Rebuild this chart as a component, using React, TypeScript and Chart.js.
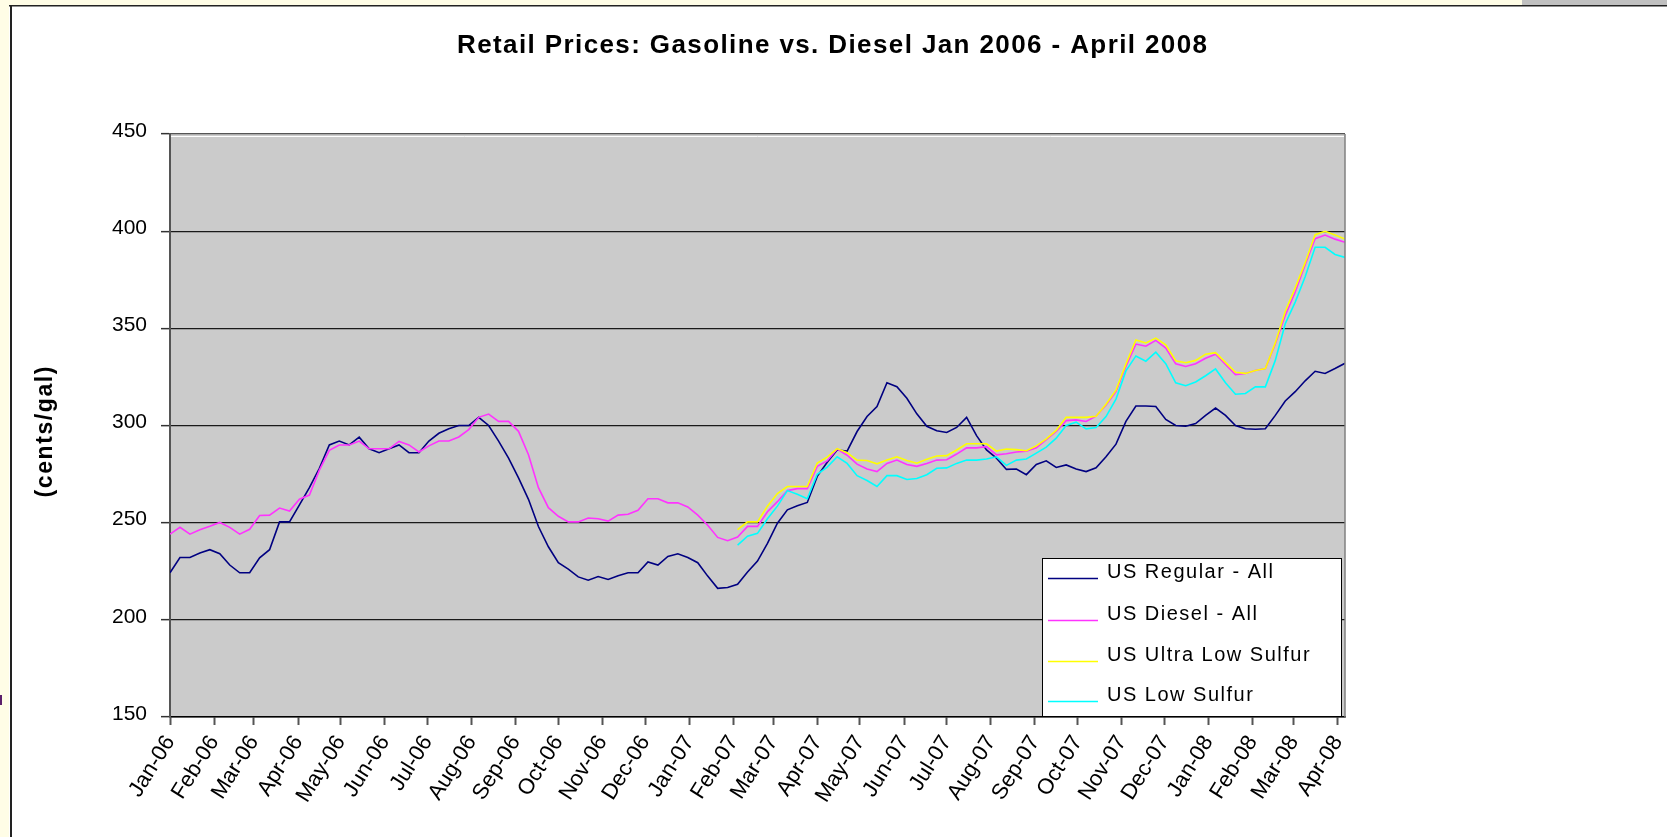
import React, { useEffect, useRef } from "react";
import { Chart, registerables } from "chart.js";

Chart.register(...registerables);

// ---------- data ----------
const FIRST_WEEK_UTC = Date.UTC(2006, 0, 2); // first weekly observation (Mon Jan 2, 2006)
const WEEK_COUNT = 119; // weekly observations through Apr 7, 2008
const LOW_SULFUR_START_WEEK = 57; // ULSD / LSD series start (Feb 5, 2007)

const monthTickLabels = [
  "Jan-06", "Feb-06", "Mar-06", "Apr-06", "May-06", "Jun-06", "Jul-06", "Aug-06", "Sep-06", "Oct-06", "Nov-06", "Dec-06",
  "Jan-07", "Feb-07", "Mar-07", "Apr-07", "May-07", "Jun-07", "Jul-07", "Aug-07", "Sep-07", "Oct-07", "Nov-07", "Dec-07",
  "Jan-08", "Feb-08", "Mar-08", "Apr-08",
];

const seriesNames = ["US Regular - All", "US Diesel - All", "US Ultra Low Sulfur", "US Low Sulfur"];
const seriesColors = ["#000080", "#ff33ff", "#ffff00", "#00ffff"];

const usRegularAll = [
  224.2, 232.1, 232.1, 234.4, 236.1, 234.0, 228.2, 224.2, 224.2, 231.9,
  236.1, 250.4, 250.4, 259.2, 268.0, 278.0, 290.0, 292.0, 290.0, 294.0,
  288.0, 286.0, 288.0, 290.0, 286.0, 286.0, 292.0, 296.0, 298.3, 300.0,
  300.0, 304.2, 300.0, 292.0, 283.2, 273.0, 262.0, 248.0, 237.6, 229.4,
  226.1, 222.1, 220.4, 222.3, 220.8, 222.7, 224.2, 224.2, 229.8, 228.2,
  232.6, 234.0, 232.1, 229.4, 222.5, 216.2, 216.6, 218.3, 224.6, 230.2,
  239.3, 249.7, 256.6, 258.7, 260.4, 273.8, 281.1, 287.4, 286.8, 296.9,
  304.6, 309.8, 322.0, 320.0, 314.0, 306.0, 299.6, 297.3, 296.4, 299.0,
  304.2, 294.8, 287.4, 283.2, 277.4, 277.6, 274.7, 279.9, 281.8, 278.4,
  279.7, 277.6, 276.3, 278.2, 283.9, 290.4, 302.1, 310.0, 310.0, 309.8,
  303.1, 300.0, 299.6, 301.0, 305.2, 309.0, 305.2, 300.0, 298.3, 298.1,
  298.3, 305.2, 312.6, 317.4, 323.0, 327.9, 326.8, 329.3, 332.0,
];

const usDieselAll = [
  244.1, 247.6, 244.1, 246.4, 248.1, 250.1, 247.6, 244.1, 246.6, 253.7,
  253.9, 257.5, 256.0, 262.1, 264.2, 277.0, 287.2, 290.0, 290.0, 292.0,
  288.0, 288.0, 288.0, 291.8, 290.0, 286.4, 289.5, 292.0, 292.0, 294.1,
  297.9, 304.2, 305.9, 302.1, 302.1, 297.0, 285.0, 268.0, 257.7, 253.3,
  250.4, 250.4, 252.4, 252.0, 250.8, 253.9, 254.3, 256.4, 262.3, 262.3,
  260.2, 260.2, 258.1, 253.9, 248.7, 242.4, 240.7, 242.6, 248.1, 248.1,
  255.6, 260.8, 266.5, 267.5, 267.5, 279.0, 281.8, 287.9, 284.7, 280.1,
  277.6, 276.3, 280.5, 282.2, 279.9, 279.0, 280.5, 282.2, 282.4, 285.3,
  288.5, 288.5, 289.1, 284.9, 285.5, 286.4, 286.8, 288.5, 292.7, 296.9,
  302.5, 302.9, 302.1, 304.8, 310.5, 317.4, 330.4, 341.9, 340.8, 343.8,
  339.8, 331.8, 330.4, 331.8, 334.6, 336.7, 331.4, 326.2, 326.8, 328.3,
  329.3, 341.9, 356.6, 368.7, 382.7, 396.1, 398.0, 395.9, 394.3,
];

const usUltraLowSulfur = [
  246.4, 250.4, 250.4, 258.5, 265.0, 268.6, 268.6, 268.6, 280.7, 283.7,
  288.1, 286.0, 282.2, 282.0, 280.3, 282.2, 283.9, 282.0, 280.6, 282.6,
  284.3, 284.5, 287.4, 290.6, 290.6, 290.6, 286.8, 287.9, 287.6, 287.0,
  289.5, 293.1, 297.5, 304.2, 304.2, 304.2, 304.8, 310.9, 318.2, 331.6,
  344.0, 342.5, 345.0, 341.5, 333.3, 332.3, 333.5, 336.7, 337.5, 332.5,
  327.4, 326.8, 328.3, 329.3, 342.5, 358.7, 370.8, 383.8, 398.2, 399.9,
  398.0, 395.9,
];

const usLowSulfur = [
  238.4, 243.0, 244.5, 252.0, 258.5, 266.5, 264.6, 262.3, 274.9, 278.6,
  283.9, 280.5, 274.2, 271.7, 268.6, 274.2, 274.2, 272.2, 272.7, 274.7,
  278.0, 278.2, 280.5, 282.2, 282.2, 282.8, 283.9, 279.5, 282.2, 282.8,
  285.8, 288.9, 293.5, 300.0, 301.7, 298.3, 299.0, 304.6, 313.6, 328.1,
  335.8, 333.1, 337.7, 331.8, 322.0, 320.5, 322.4, 325.6, 329.1, 322.0,
  316.1, 316.5, 319.9, 319.9, 333.5, 352.4, 363.5, 376.5, 391.7, 391.7,
  388.0, 386.5,
];

// ---------- helpers ----------
const DAY_MS = 86400000;
const weekDay = (i: number) => i * 7; // x value in days since the first observation
const tickDays = monthTickLabels.map((_, k) => {
  const y = 2006 + Math.floor(k / 12);
  const m = k % 12;
  return Math.round((Date.UTC(y, m, 2) - FIRST_WEEK_UTC) / DAY_MS);
});

const FONT = "'Liberation Sans', Arial, Helvetica, sans-serif";

function drawSpaced(ctx: CanvasRenderingContext2D, text: string, cx: number, y: number, targetWidth: number | null, spacing: number, align: "center" | "left") {
  const chars = Array.from(text);
  const widths = chars.map((c) => ctx.measureText(c).width);
  const natural = widths.reduce((a, b) => a + b, 0);
  const sp = targetWidth != null ? (targetWidth - natural) / (chars.length - 1) : spacing;
  const total = natural + sp * (chars.length - 1);
  let x = align === "center" ? cx - total / 2 : cx;
  ctx.textAlign = "left";
  chars.forEach((c, i) => {
    ctx.fillText(c, x, y);
    x += widths[i] + sp;
  });
}

const decorPlugin = {
  id: "decor",
  beforeDraw(chart: any) {
    const { ctx, width, height, chartArea } = chart;
    ctx.save();
    ctx.fillStyle = "#ffffff";
    ctx.fillRect(0, 0, width, height);
    // spreadsheet frame around the chart object
    ctx.fillStyle = "#fffde6";
    ctx.fillRect(0, 0, 1522, 5);
    ctx.fillRect(0, 0, 9, height);
    ctx.fillStyle = "#c0c0c0";
    ctx.fillRect(1522, 0, width - 1522, 5);
    ctx.fillStyle = "#222222";
    ctx.fillRect(9, 5, width - 9, 1.5);
    ctx.fillRect(10, 5, 2, height - 5);
    ctx.fillStyle = "#5b1f6b";
    ctx.fillRect(0, 695, 2, 10);
    // plot area fill
    ctx.fillStyle = "#cbcbcb";
    ctx.fillRect(chartArea.left, chartArea.top, chartArea.right - chartArea.left, chartArea.bottom - chartArea.top);
    ctx.restore();
  },
  afterDraw(chart: any) {
    const { ctx, chartArea } = chart;
    ctx.save();
    // plot area border details
    ctx.strokeStyle = "#ffffff";
    ctx.lineWidth = 1;
    ctx.beginPath();
    ctx.moveTo(chartArea.left + 1, chartArea.top + 2.5);
    ctx.lineTo(chartArea.right - 1, chartArea.top + 2.5);
    ctx.stroke();
    ctx.strokeStyle = "#808080";
    ctx.lineWidth = 1.5;
    ctx.beginPath();
    ctx.moveTo(chartArea.right, chartArea.top);
    ctx.lineTo(chartArea.right, chartArea.bottom);
    ctx.stroke();

    // title
    ctx.fillStyle = "#000000";
    ctx.textBaseline = "middle";
    ctx.font = `bold 26px ${FONT}`;
    drawSpaced(ctx, "Retail Prices: Gasoline vs. Diesel Jan 2006 - April 2008", 832, 46, 750, 0, "center");

    // y axis title
    ctx.save();
    ctx.translate(46, 432);
    ctx.rotate(-Math.PI / 2);
    ctx.font = `bold 23px ${FONT}`;
    drawSpaced(ctx, "(cents/gal)", 0, 0, 131, 0, "center");
    ctx.restore();

    // legend
    const bx = 1042, by = 558, bw = 300, bh = 159;
    ctx.fillStyle = "#ffffff";
    ctx.fillRect(bx, by, bw, bh);
    ctx.strokeStyle = "#000000";
    ctx.lineWidth = 1;
    ctx.strokeRect(bx + 0.5, by + 0.5, bw - 1, bh - 1);
    const rows = [572, 614, 655, 695];
    ctx.font = `20px ${FONT}`;
    ctx.textBaseline = "middle";
    seriesNames.forEach((name, i) => {
      ctx.strokeStyle = seriesColors[i];
      ctx.lineWidth = 1.5;
      ctx.beginPath();
      ctx.moveTo(1048, rows[i] + 6.5);
      ctx.lineTo(1098, rows[i] + 6.5);
      ctx.stroke();
      ctx.fillStyle = "#000000";
      drawSpaced(ctx, name, 1107, rows[i], null, 1.5, "left");
    });
    ctx.restore();
  },
};

export default function App() {
  const canvasRef = useRef<HTMLCanvasElement | null>(null);

  useEffect(() => {
    const canvas = canvasRef.current;
    if (!canvas) return;

    const toPoints = (values: number[], startWeek: number) =>
      values.map((v, i) => ({ x: weekDay(startWeek + i), y: v }));

    const seriesValues = [usRegularAll, usDieselAll, usUltraLowSulfur, usLowSulfur];
    const seriesStarts = [0, 0, LOW_SULFUR_START_WEEK, LOW_SULFUR_START_WEEK];

    const chart = new Chart(canvas, {
      type: "line",
      data: {
        datasets: seriesValues.map((vals, k) => ({
          label: seriesNames[k],
          data: toPoints(vals, seriesStarts[k]),
          borderColor: seriesColors[k],
          backgroundColor: seriesColors[k],
          borderWidth: 1.6,
          pointRadius: 0,
          tension: 0,
          fill: false,
          order: 4 - k,
        })),
      },
      options: {
        animation: false,
        responsive: false,
        devicePixelRatio: 1,
        layout: { padding: { left: 0, top: 134, right: 322, bottom: 20 } },
        plugins: {
          legend: { display: false },
          title: { display: false },
          tooltip: { enabled: false },
        },
        scales: {
          x: {
            type: "linear",
            min: 0,
            max: weekDay(WEEK_COUNT - 1),
            afterBuildTicks: (scale: any) => {
              scale.ticks = tickDays.map((v) => ({ value: v }));
            },
            afterFit: (scale: any) => {
              scale.height = 100;
            },
            ticks: {
              autoSkip: false,
              minRotation: 58,
              maxRotation: 58,
              padding: 6,
              color: "#000000",
              font: { family: FONT, size: 22 },
              callback: (_v: any, index: number) => monthTickLabels[index],
            },
            grid: {
              drawOnChartArea: false,
              drawTicks: true,
              tickLength: 8,
              tickColor: "#555555",
              tickWidth: 2,
            },
            border: { display: true, color: "#000000", width: 1.5 },
          },
          y: {
            min: 150,
            max: 450,
            afterFit: (scale: any) => {
              scale.width = 170;
            },
            ticks: {
              stepSize: 50,
              padding: 14,
              labelOffset: -3,
              color: "#000000",
              font: { family: FONT, size: 21 },
            },
            grid: {
              color: (c: any) => (c.tick && c.tick.value === 450 ? "#555555" : "#1a1a1a"),
              lineWidth: 1.3,
              tickLength: 9,
              tickColor: "#333333",
              tickWidth: 1.5,
            },
            border: { display: true, color: "#555555", width: 2 },
          },
        },
      },
      plugins: [decorPlugin],
    } as any);

    return () => chart.destroy();
  }, []);

  return (
    <div style={{ position: "absolute", left: 0, top: 0, width: 1667, height: 837, background: "#ffffff" }}>
      <canvas ref={canvasRef} width={1667} height={837} style={{ display: "block", width: 1667, height: 837 }} />
    </div>
  );
}
